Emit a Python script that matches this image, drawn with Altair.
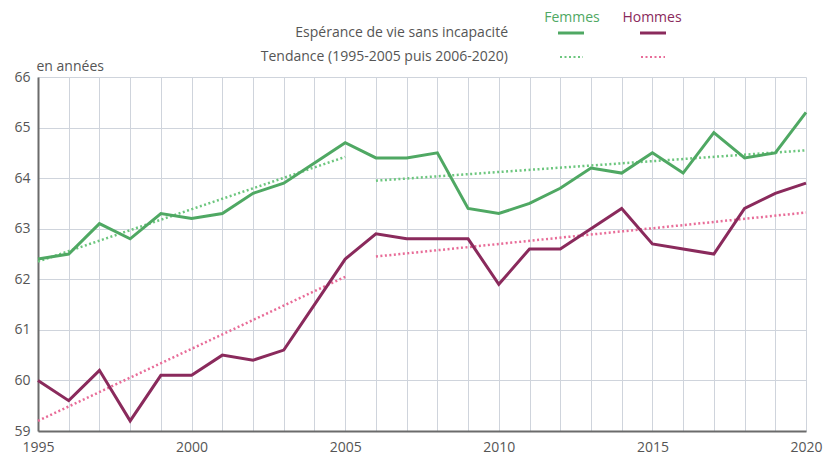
import altair as alt
import pandas as pd

years = list(range(1995, 2021))
femmes = [62.4, 62.5, 63.1, 62.8, 63.3, 63.2, 63.3, 63.7, 63.9, 64.3, 64.7,
          64.4, 64.4, 64.5, 63.4, 63.3, 63.5, 63.8, 64.2, 64.1, 64.5, 64.1,
          64.9, 64.4, 64.5, 65.3]
hommes = [60.0, 59.6, 60.2, 59.2, 60.1, 60.1, 60.5, 60.4, 60.6, 61.5, 62.4,
          62.9, 62.8, 62.8, 62.8, 61.9, 62.6, 62.6, 63.0, 63.4, 62.7, 62.6,
          62.5, 63.4, 63.7, 63.9]

# trend segments: (series, segment, start year, end year, start value, end value)
trend_series = ["Femmes", "Femmes", "Hommes", "Hommes"]
trend_segment = ["F1", "F2", "H1", "H2"]
trend_x0 = [1995, 2006, 1995, 2006]
trend_x1 = [2005, 2020, 2005, 2020]
trend_y0 = [62.35, 63.95, 59.2, 62.45]
trend_y1 = [64.42, 64.55, 62.05, 63.32]

FONT = "Open Sans"
C_F = "#4fa863"
C_H = "#8a2a5c"
C_FT = "#6cc67e"
C_HT = "#e86c98"
line_colors = {"Femmes": C_F, "Hommes": C_H}
trend_colors = {"Femmes": C_FT, "Hommes": C_HT}

df = pd.DataFrame({
    "annee": years * 2,
    "valeur": femmes + hommes,
    "sexe": ["Femmes"] * len(years) + ["Hommes"] * len(years),
})
df["couleur"] = df["sexe"].map(line_colors)

trend_rows = []
for s, g, x0, x1, y0, y1 in zip(trend_series, trend_segment, trend_x0, trend_x1, trend_y0, trend_y1):
    trend_rows.append({"sexe": s, "seg": g, "annee": x0, "valeur": y0})
    trend_rows.append({"sexe": s, "seg": g, "annee": x1, "valeur": y1})
tdf = pd.DataFrame(trend_rows)
tdf["couleur"] = tdf["sexe"].map(trend_colors)

xscale = alt.Scale(domain=[1995, 2020], nice=False, zero=False)
yscale = alt.Scale(domain=[59, 66], nice=False, zero=False)

xaxis = alt.Axis(
    values=years, format="d", labelExpr="datum.value % 5 == 0 ? datum.label : ''",
    title=None, ticks=False, grid=True, gridColor="#cfd4dc", gridWidth=1,
    domainColor="#6b6b6b", domainWidth=2, labelFont=FONT, labelFontSize=14,
    labelColor="#555555", labelPadding=9, labelFlush=False, labelBound=False,
    labelOverlap=False,
)
yaxis = alt.Axis(
    values=list(range(59, 67)), title="en années", titleAngle=0, titleAlign="left",
    titleBaseline="bottom", titleX=-2, titleY=-4, titleFont=FONT, titleFontSize=14,
    titleFontWeight="normal", titleColor="#555555",
    ticks=False, grid=True, gridColor="#cfd4dc", gridWidth=1,
    domainColor="#6b6b6b", domainWidth=2, labelFont=FONT, labelFontSize=14,
    labelColor="#555555", labelPadding=8,
)

trend = alt.Chart(tdf).mark_line(strokeWidth=2.5, strokeDash=[2, 2.5]).encode(
    x=alt.X("annee:Q", scale=xscale, axis=xaxis),
    y=alt.Y("valeur:Q", scale=yscale, axis=yaxis),
    color=alt.Color("couleur:N", scale=None),
    detail="seg:N",
)

lines = alt.Chart(df).mark_line(strokeWidth=3).encode(
    x=alt.X("annee:Q", scale=xscale, axis=xaxis),
    y=alt.Y("valeur:Q", scale=yscale, axis=yaxis),
    color=alt.Color("couleur:N", scale=None),
    detail="sexe:N",
)

# custom legend
leg_head = alt.Chart(pd.DataFrame({"t": ["Femmes", "Hommes"], "c": [C_F, C_H], "px": [534, 614]})).mark_text(
    font=FONT, fontSize=14, align="center", baseline="middle"
).encode(
    x=alt.X("px:Q", scale=None), y=alt.value(-59), text="t:N", color=alt.Color("c:N", scale=None)
)
leg_labels = alt.Chart(pd.DataFrame({
    "t": ["Espérance de vie sans incapacité", "Tendance (1995-2005 puis 2006-2020)"],
    "py": [-44, -20],
})).mark_text(font=FONT, fontSize=14, align="right", baseline="middle", color="#555555").encode(
    x=alt.value(470), y=alt.Y("py:Q", scale=None), text="t:N"
)
leg_solid_f = alt.Chart(pd.DataFrame({"a": [0]})).mark_rule(color=C_F, strokeWidth=3).encode(
    x=alt.value(520), x2=alt.value(546), y=alt.value(-44))
leg_solid_h = alt.Chart(pd.DataFrame({"a": [0]})).mark_rule(color=C_H, strokeWidth=3).encode(
    x=alt.value(602), x2=alt.value(628), y=alt.value(-44))
leg_dot_f = alt.Chart(pd.DataFrame({"a": [0]})).mark_rule(color=C_FT, strokeWidth=2, strokeDash=[2, 2.5]).encode(
    x=alt.value(522), x2=alt.value(545), y=alt.value(-20))
leg_dot_h = alt.Chart(pd.DataFrame({"a": [0]})).mark_rule(color=C_HT, strokeWidth=2, strokeDash=[2, 2.5]).encode(
    x=alt.value(603), x2=alt.value(627), y=alt.value(-20))

chart = alt.layer(
    trend, lines, leg_head, leg_labels, leg_solid_f, leg_solid_h, leg_dot_f, leg_dot_h
).properties(
    width=768, height=354,
    autosize=alt.AutoSizeParams(type="none"),
    padding={"left": 30, "top": 69, "right": 17, "bottom": 27},
    background="white",
).configure_view(stroke=None)

chart.save("out.html", embed_options={"renderer": "svg", "actions": False})
